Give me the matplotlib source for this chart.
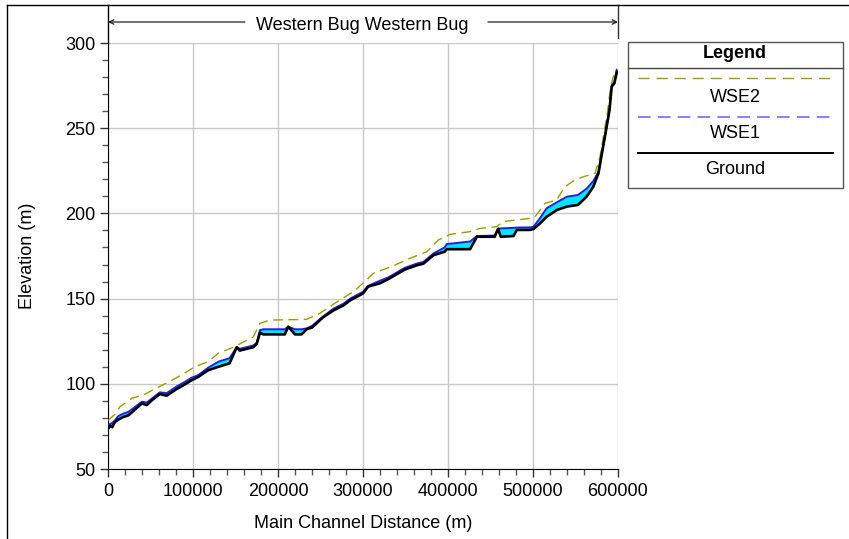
import matplotlib
matplotlib.use("Agg")
import matplotlib.pyplot as plt
from matplotlib.lines import Line2D
from matplotlib.patches import Rectangle
from matplotlib.ticker import MultipleLocator
import numpy as np

plt.rcParams['font.family'] = ['Liberation Sans', 'DejaVu Sans']

# ---- data ----
station = [0, 2500, 5000, 8000, 12000, 18000, 24000, 32000, 40000, 45500, 52000, 61000, 69000,
           81000, 90000, 98000, 106000, 118000, 130000, 143000, 151500, 155000, 171000, 175000,
           178800, 182700, 208000, 212000, 220000, 227800, 233600, 240000, 253000, 265000,
           277000, 285000, 300000, 306000, 320000, 330000, 349000, 363000, 371000, 377000,
           383000, 396000, 398500, 426000, 434000, 455000, 459000, 462000, 477000, 481000,
           496500, 500400, 508000, 516000, 528000, 540000, 553000, 563000, 571000, 577000,
           581000, 586000, 590000, 592600, 595700, 598600]
ground = [73.5, 75.5, 74.5, 77.5, 79, 80.5, 81.5, 85, 88.5, 87.5, 90.5, 94, 93,
          97, 99.5, 102, 104, 108, 110, 112, 121.5, 119.5, 121.5, 123.5,
          130, 129, 129, 133.5, 129, 129, 132, 133, 139, 143,
          146, 149, 153, 157, 159, 161.5, 167, 169.5, 170.5, 173,
          175.5, 177.5, 179, 179, 186.3, 186.3, 191, 186.3, 186.7, 190.3,
          190.3, 190.8, 194, 198, 202, 204, 205, 209.8, 215.7, 223.5,
          235, 249, 260.7, 274.4, 276.3, 283]
wse1 = [75.5, 76.5, 77, 78.5, 81, 82.5, 83.5, 86.5, 89.5, 89, 91.5, 95, 94.5,
        98.5, 101, 103.5, 105, 109.5, 113, 115, 121.5, 120.5, 122.5, 124,
        131.5, 132, 132, 133.5, 132, 132, 132.5, 134, 139.5, 144,
        147, 150, 154, 157.5, 160.5, 162.5, 168, 170.5, 171.5, 174,
        176.5, 180, 182, 183.5, 186.7, 187, 191, 191.2, 191.5, 191.7,
        191.8, 192, 197, 203, 206.5, 209.8, 210.8, 214.5, 219, 224.5,
        235.5, 249.5, 261, 275, 277, 284]
station2 = [0, 8000, 14000, 28000, 42000, 55000, 75000, 92600, 102000, 118000,
            130000, 145500, 157300, 171000, 178800, 190600, 233600, 249400, 272900, 288600,
            304300, 312000, 328000, 332000, 355000, 375000, 388600, 402400, 426000, 437600,
            457300, 465100, 496500, 502400, 514100, 527800, 537600, 549400, 559200, 572900,
            578800, 587400, 591400, 594500, 598400]
wse2 = [78.5, 82, 86.5, 91.5, 93.5, 97, 102, 107, 110, 113,
        118, 121, 124, 127.6, 135.5, 137.4, 137.8, 141.4, 149.2, 154,
        161, 164.8, 167.8, 168.4, 173.6, 177.5, 184.4, 187.7, 189.3, 191.2,
        192.2, 195.2, 197.1, 198, 205.9, 207.9, 215.7, 219.6, 221.5, 223.5,
        233.3, 258.7, 274.4, 280.3, 285]
series_names = ["WSE2", "WSE1", "Ground"]
title_text = "Western Bug Western Bug"
x_label = "Main Channel Distance (m)"
y_label = "Elevation (m)"

W, H = 849, 539
fig = plt.figure(figsize=(W / 100, H / 100), dpi=100)

def fx(x):
    return x / W

def fy(y):
    return 1 - y / H

FS = 13

ax = fig.add_axes([fx(108), fy(469), fx(618) - fx(108), fy(43) - fy(469)])
ax.set_xlim(0, 600000)
ax.set_ylim(50, 300)

st = np.array(station); g = np.array(ground); w1 = np.array(wse1)
ax.fill_between(st, g, w1, where=w1 >= g, color='#00E5FF', linewidth=0, zorder=2)
ax.plot(station2, wse2, color='#9C9C00', lw=1, dashes=(7, 4), zorder=3)
ax.plot(st, w1, color='#2020E0', lw=1.4, zorder=4)
ax.plot(st, g, color='black', lw=1.9, zorder=5)

ax.xaxis.set_major_locator(MultipleLocator(100000))
ax.xaxis.set_minor_locator(MultipleLocator(20000))
ax.yaxis.set_major_locator(MultipleLocator(50))
ax.yaxis.set_minor_locator(MultipleLocator(10))
ax.grid(True, which='major', color='#C8C8C8', lw=1, zorder=0)
ax.set_axisbelow(True)
for s in ['top', 'right']:
    ax.spines[s].set_visible(False)
ax.tick_params(which='major', length=6, width=1, labelsize=FS, direction='out', color='#333333')
ax.tick_params(which='minor', length=4, width=1, direction='out', color='#555555')
ax.tick_params(axis='x', pad=4)
ax.tick_params(axis='y', pad=3)
ax.set_xticklabels([f"{int(v)}" for v in ax.get_xticks()])

fig.text(fx(363), fy(523), x_label, ha='center', va='center', fontsize=FS)
fig.text(fx(28), fy(256), y_label, ha='center', va='center', rotation=90, fontsize=FS)

# left spine extension, figure frame and top bracket
fig.add_artist(Line2D([fx(108), fx(108)], [fy(43), fy(5)], color='black', lw=1))
fig.add_artist(Line2D([fx(618), fx(618)], [fy(5), fy(38)], color='#333333', lw=1))
fig.add_artist(Line2D([fx(7), fx(849)], [fy(5), fy(5)], color='black', lw=1))
fig.add_artist(Line2D([fx(7), fx(7)], [fy(5), fy(539)], color='black', lw=1))
yb = 1.0 + 21 / 426
arrow_kw = dict(arrowstyle='->', color='#222222', lw=0.9, shrinkA=0, shrinkB=0, mutation_scale=8)
ax.annotate('', xy=(0, yb), xytext=(161000, yb), xycoords=('data', 'axes fraction'),
            textcoords=('data', 'axes fraction'), arrowprops=arrow_kw)
ax.annotate('', xy=(600000, yb), xytext=(447000, yb), xycoords=('data', 'axes fraction'),
            textcoords=('data', 'axes fraction'), arrowprops=arrow_kw)
fig.text(fx(362), fy(25), title_text, ha='center', va='center', fontsize=FS)

# legend box
fig.add_artist(Rectangle((fx(628), fy(188)), fx(843) - fx(628), fy(42) - fy(188),
                         facecolor='white', edgecolor='#555555', lw=1))
fig.add_artist(Line2D([fx(628), fx(843)], [fy(68), fy(68)], color='#444444', lw=1))
fig.text(fx(735), fy(54), "Legend", ha='center', va='center', fontsize=FS, fontweight='bold')
fig.add_artist(Line2D([fx(638), fx(833)], [fy(78), fy(78)], color='#9C9C00', lw=1, dashes=(8, 5)))
fig.text(fx(735), fy(97), series_names[0], ha='center', va='center', fontsize=FS)
fig.add_artist(Line2D([fx(638), fx(833)], [fy(117), fy(117)], color='#7878FF', lw=1.3, dashes=(7, 4)))
fig.text(fx(735), fy(134), series_names[1], ha='center', va='center', fontsize=FS)
fig.add_artist(Line2D([fx(638), fx(833)], [fy(153), fy(153)], color='black', lw=1.4))
fig.text(fx(735), fy(170), series_names[2], ha='center', va='center', fontsize=FS)

fig.savefig("out.png", dpi=100)
